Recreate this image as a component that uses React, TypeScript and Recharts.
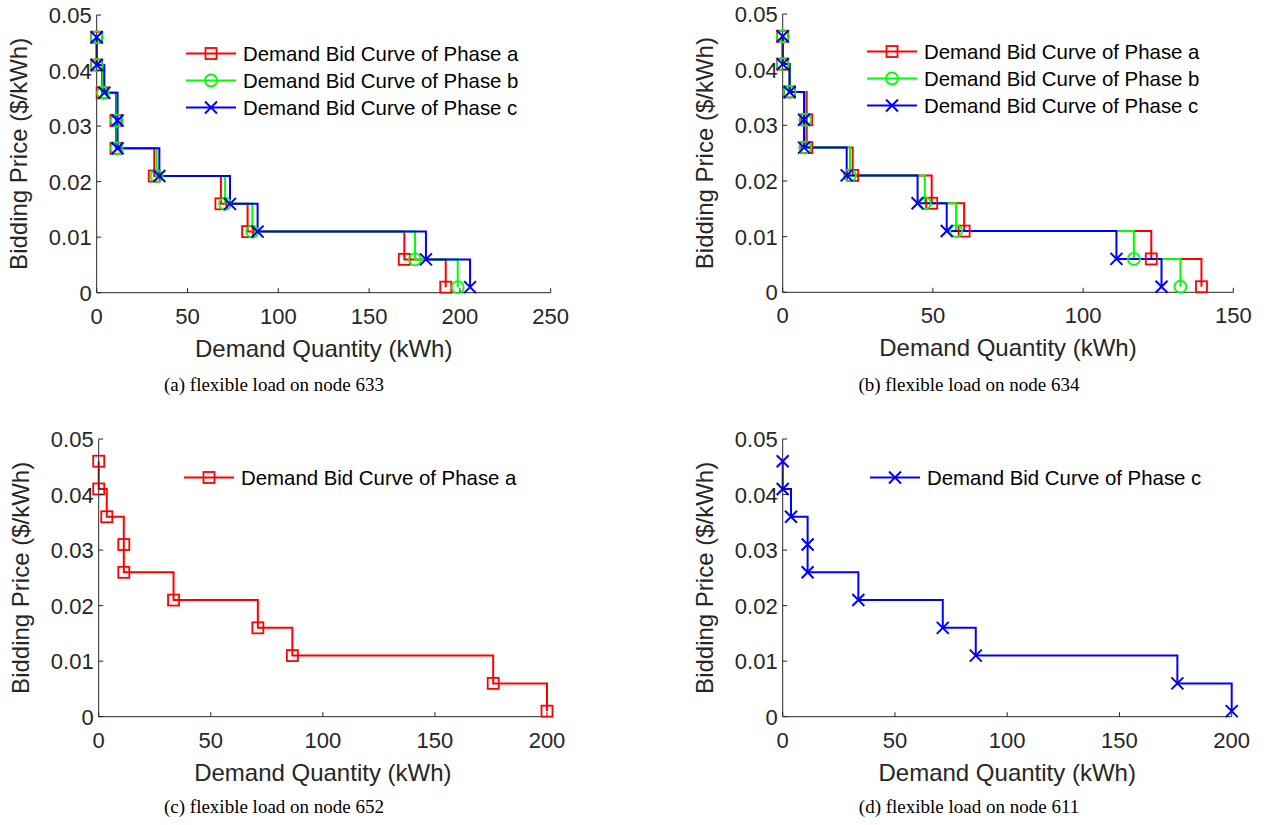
import React from "react";
import { LineChart, Line, XAxis, YAxis, Legend } from "recharts";

// bid prices shared by every curve ($/kWh)
const PRICES = [0.046, 0.041, 0.036, 0.031, 0.026, 0.021, 0.016, 0.011, 0.006, 0.001];
const Y_TICKS = [0, 0.01, 0.02, 0.03, 0.04, 0.05];

// cumulative demand quantity (kWh) at each price step
const NODE633_A = [0, 0, 3, 10.6, 10.6, 31.7, 68.4, 83.1, 169.4, 192.2];
const NODE633_B = [0, 0, 3.5, 11, 11, 33, 70.7, 85.7, 175.3, 198.8];
const NODE633_C = [0, 0, 4.2, 11.5, 11.5, 34.5, 73.4, 88.6, 181.3, 205.6];

const NODE634_A = [0, 0, 2.3, 8, 8, 23.3, 49.6, 60.4, 122.7, 139.4];
const NODE634_B = [0, 0, 2.3, 7.5, 7.5, 22.4, 47.3, 57.7, 116.9, 132.4];
const NODE634_C = [0, 0, 2.3, 7.1, 7.1, 21.3, 44.9, 54.6, 111.1, 126.1];

const NODE652_A = [0, 0, 3.6, 11.2, 11.2, 33.4, 71, 86.4, 176, 200];
const NODE611_C = [0, 0, 3.7, 11.1, 11.1, 33.7, 71.3, 86, 175.8, 200];

const X_TICKS_250 = [0, 50, 100, 150, 200, 250];
const X_TICKS_150 = [0, 50, 100, 150];
const X_TICKS_200 = [0, 50, 100, 150, 200];

const SANS = "'Liberation Sans', Arial, Helvetica, sans-serif";
const SERIF = "'Liberation Serif', 'Times New Roman', serif";
const AXIS = "#262626";

const PHASES: Record<string, { name: string; color: string; marker: string }> = {
  a: { name: "Demand Bid Curve of Phase a", color: "#ff0000", marker: "square" },
  b: { name: "Demand Bid Curve of Phase b", color: "#00ff00", marker: "circle" },
  c: { name: "Demand Bid Curve of Phase c", color: "#0000ff", marker: "cross" },
};

const toPoints = (qs: number[]) => qs.map((q, i) => ({ q, p: PRICES[i] }));

function Marker({ kind, cx, cy, color }: any) {
  if (kind === "square")
    return <rect x={cx - 5.5} y={cy - 5.5} width={11} height={11} fill="none" stroke={color} strokeWidth={1.8} />;
  if (kind === "circle")
    return <circle cx={cx} cy={cy} r={6} fill="none" stroke={color} strokeWidth={1.8} />;
  return (
    <path
      d={`M${cx - 6},${cy - 6}L${cx + 6},${cy + 6}M${cx - 6},${cy + 6}L${cx + 6},${cy - 6}`}
      stroke={color}
      strokeWidth={2}
      fill="none"
    />
  );
}

const YTick = ({ x, y, payload }: any) => (
  <g>
    <line x1={x + 5} x2={x + 9.5} y1={y} y2={y} stroke={AXIS} strokeWidth={1} />
    <text x={x} y={y + 8} textAnchor="end" fontSize={22} fontFamily={SANS} fill={AXIS}>
      {payload.value === 0 ? "0" : payload.value.toFixed(2)}
    </text>
  </g>
);

const XTick = ({ x, y, payload }: any) => (
  <g>
    <line x1={x} x2={x} y1={y} y2={y - 4.5} stroke={AXIS} strokeWidth={1} />
    <text x={x} y={y + 31} textAnchor="middle" fontSize={22} fontFamily={SANS} fill={AXIS}>
      {payload.value}
    </text>
  </g>
);

const XLabel = ({ viewBox }: any) => (
  <text
    x={viewBox.x + viewBox.width / 2}
    y={viewBox.y + 64}
    textAnchor="middle"
    fontSize={24}
    fontFamily={SANS}
    fill={AXIS}
  >
    Demand Quantity (kWh)
  </text>
);

const YLabel = ({ viewBox }: any) => {
  const cx = viewBox.x + viewBox.width - 78;
  const cy = viewBox.y + viewBox.height / 2;
  return (
    <text
      x={cx}
      y={cy}
      transform={`rotate(-90 ${cx} ${cy})`}
      textAnchor="middle"
      dominantBaseline="central"
      fontSize={24}
      fontFamily={SANS}
      fill={AXIS}
    >
      Bidding Price ($/kWh)
    </text>
  );
};

function LegendBox({ phases }: { phases: string[] }) {
  return (
    <svg width={360} height={phases.length * 27} style={{ display: "block", overflow: "visible" }}>
      {phases.map((ph, i) => {
        const s = PHASES[ph];
        const cy = 13.5 + i * 27;
        return (
          <g key={ph}>
            <line x1={0} x2={50} y1={cy} y2={cy} stroke={s.color} strokeWidth={2} />
            <Marker kind={s.marker} cx={25} cy={cy} color={s.color} />
            <text x={57} y={cy + 7} fontSize={20.4} fontFamily={SANS} fill="#000">
              {s.name}
            </text>
          </g>
        );
      })}
    </svg>
  );
}

type Panel = {
  x0: number;
  y0: number;
  w: number;
  h: number;
  plot: { l: number; r: number; t: number; b: number };
  xMax: number;
  xTicks: number[];
  series: { phase: string; qs: number[] }[];
  legend: { left: number; top: number };
};

const PANELS: Panel[] = [
  {
    x0: 0, y0: 0, w: 620, h: 380,
    plot: { l: 96.7, r: 550.7, t: 15, b: 292.7 },
    xMax: 250, xTicks: X_TICKS_250,
    series: [{ phase: "a", qs: NODE633_A }, { phase: "b", qs: NODE633_B }, { phase: "c", qs: NODE633_C }],
    legend: { left: 186, top: 39.8 },
  },
  {
    x0: 640, y0: 0, w: 630, h: 380,
    plot: { l: 142.7, r: 593.3, t: 14, b: 292.3 },
    xMax: 150, xTicks: X_TICKS_150,
    series: [{ phase: "a", qs: NODE634_A }, { phase: "b", qs: NODE634_B }, { phase: "c", qs: NODE634_C }],
    legend: { left: 227.3, top: 38.2 },
  },
  {
    x0: 0, y0: 420, w: 620, h: 380,
    plot: { l: 98.7, r: 547, t: 19, b: 296.7 },
    xMax: 200, xTicks: X_TICKS_200,
    series: [{ phase: "a", qs: NODE652_A }],
    legend: { left: 183.7, top: 43.8 },
  },
  {
    x0: 640, y0: 420, w: 630, h: 380,
    plot: { l: 142.7, r: 591.7, t: 19, b: 296.7 },
    xMax: 200, xTicks: X_TICKS_200,
    series: [{ phase: "c", qs: NODE611_C }],
    legend: { left: 230, top: 43.8 },
  },
];

const CAPTIONS = [
  { text: "(a) flexible load on node 633", x: 274, y: 391 },
  { text: "(b) flexible load on node 634", x: 969, y: 391 },
  { text: "(c) flexible load on node 652", x: 274, y: 813 },
  { text: "(d) flexible load on node 611", x: 969, y: 813 },
];

function BidPanel({ panel }: { panel: Panel }) {
  const { plot } = panel;
  const Y_AXIS_W = 70;
  const X_AXIS_H = 60;
  return (
    <div style={{ position: "absolute", left: panel.x0, top: panel.y0 }}>
      <LineChart
        width={panel.w}
        height={panel.h}
        margin={{
          top: plot.t,
          left: plot.l - Y_AXIS_W,
          right: panel.w - plot.r,
          bottom: panel.h - plot.b - X_AXIS_H,
        }}
      >
        <XAxis
          type="number"
          dataKey="q"
          domain={[0, panel.xMax]}
          ticks={panel.xTicks}
          height={X_AXIS_H}
          tickSize={0}
          tickMargin={0}
          tickLine={false}
          axisLine={{ stroke: AXIS, strokeWidth: 1 }}
          tick={<XTick />}
          label={XLabel}
        />
        <YAxis
          type="number"
          dataKey="p"
          domain={[0, 0.05]}
          ticks={Y_TICKS}
          width={Y_AXIS_W}
          tickSize={0}
          tickMargin={5}
          tickLine={false}
          axisLine={{ stroke: AXIS, strokeWidth: 1 }}
          tick={<YTick />}
          label={YLabel}
        />
        {panel.series.map((s) => {
          const st = PHASES[s.phase];
          return (
            <Line
              key={s.phase}
              data={toPoints(s.qs)}
              dataKey="p"
              name={st.name}
              type="stepAfter"
              stroke={st.color}
              strokeWidth={2}
              isAnimationActive={false}
              dot={(props: any) => (
                <g key={`${s.phase}-${props.index}`}>
                  <Marker kind={st.marker} cx={props.cx} cy={props.cy} color={st.color} />
                </g>
              )}
              activeDot={false}
            />
          );
        })}
        <Legend
          layout="horizontal"
          align="center"
          verticalAlign="middle"
          wrapperStyle={{ left: panel.legend.left, top: panel.legend.top, width: 360 }}
          content={() => <LegendBox phases={panel.series.map((s) => s.phase)} />}
        />
      </LineChart>
    </div>
  );
}

export default function App() {
  return (
    <div style={{ position: "absolute", left: 0, top: 0, width: 1270, height: 825, background: "#fff" }}>
      {PANELS.map((p, i) => (
        <BidPanel key={i} panel={p} />
      ))}
      <svg width={1270} height={825} style={{ position: "absolute", left: 0, top: 0, pointerEvents: "none" }}>
        {CAPTIONS.map((c) => (
          <text key={c.text} x={c.x} y={c.y} textAnchor="middle" fontSize={19} fontFamily={SERIF} fill="#000">
            {c.text}
          </text>
        ))}
      </svg>
    </div>
  );
}
